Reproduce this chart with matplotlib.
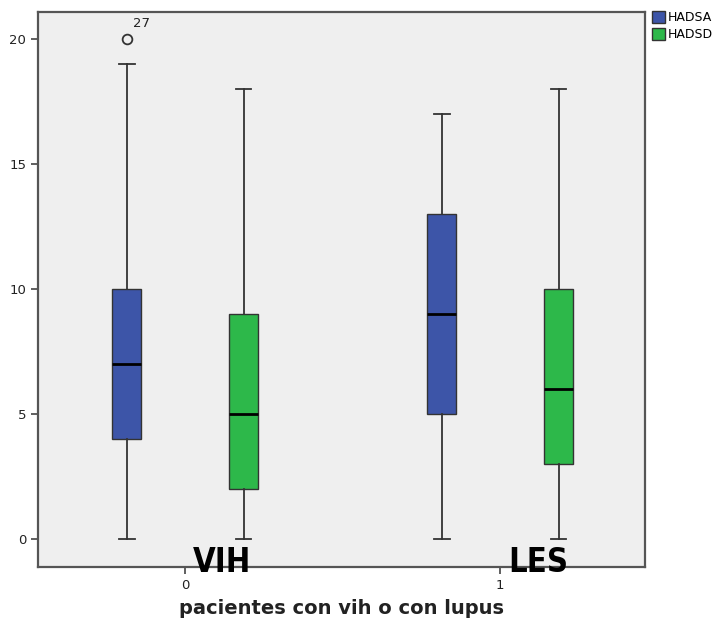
import matplotlib
matplotlib.use('Agg')
import matplotlib.pyplot as plt
from matplotlib.patches import Patch

# data (whiskers, quartiles, median)
groups = ['0', '1']
group_names = ['VIH', 'LES']
series = ['HADSA', 'HADSD']
colors = ['#3D55A8', '#2DB84A']

whislo = [[0, 0], [0, 0]]
q1 = [[4, 2], [5, 3]]
med = [[7, 5], [9, 6]]
q3 = [[10, 9], [13, 10]]
whishi = [[19, 18], [17, 18]]
fliers = [[[20], []], [[], []]]
flier_labels = [[['27'], []], [[], []]]

offsets = [-0.185, 0.185]
box_width = 0.092

fig = plt.figure(figsize=(7.2, 6.24), dpi=100)
ax = fig.add_axes([0.053, 0.091, 0.843, 0.890])
ax.set_facecolor('#EFEFEF')

for gi in range(len(groups)):
    for si in range(len(series)):
        stats = [{
            'whislo': whislo[gi][si], 'q1': q1[gi][si], 'med': med[gi][si],
            'q3': q3[gi][si], 'whishi': whishi[gi][si], 'fliers': fliers[gi][si],
        }]
        pos = gi + offsets[si]
        ax.bxp(stats, positions=[pos], widths=box_width, patch_artist=True,
               showcaps=True, capwidths=0.05,
               boxprops=dict(facecolor=colors[si], edgecolor='#333333', linewidth=1.0),
               medianprops=dict(color='black', linewidth=2),
               whiskerprops=dict(color='#333333', linewidth=1.3),
               capprops=dict(color='#333333', linewidth=1.3),
               flierprops=dict(marker='o', markerfacecolor='none',
                               markeredgecolor='#333333', markersize=7,
                               markeredgewidth=1.3),
               manage_ticks=False)
        for val, lab in zip(fliers[gi][si], flier_labels[gi][si]):
            ax.text(pos + 0.02, val + 0.35, lab, fontsize=9.5, color='#222222',
                    ha='left', va='bottom')

ax.set_xlim(-0.467, 1.46)
ax.set_ylim(-1.12, 21.08)
ax.set_yticks([0, 5, 10, 15, 20])
ax.set_xticks([0, 1])
ax.set_xticklabels(groups)
ax.tick_params(axis='both', direction='out', length=5, width=1.2,
               color='#444444', labelsize=9.5, labelcolor='#222222')
for sp in ax.spines.values():
    sp.set_color('#555555')
    sp.set_linewidth(1.6)

# big group names, drawn over the bottom spine like in the original
for gi, name in enumerate(group_names):
    ax.text(gi + 0.025, -0.94, name, fontsize=23.5, fontweight='bold',
            family='DejaVu Sans', fontstretch='condensed',
            ha='left', va='center', color='black', zorder=10, clip_on=False)

ax.set_xlabel('pacientes con vih o con lupus', fontsize=14, fontweight='bold',
              color='#222222', labelpad=5)

handles = [Patch(facecolor=c, edgecolor='#333333', label=s) for c, s in zip(colors, series)]
fig.legend(handles=handles, loc='upper left', bbox_to_anchor=(0.898, 0.99),
           frameon=False, fontsize=9, handlelength=1.1, handleheight=1.1,
           handletextpad=0.2, labelspacing=0.3, borderaxespad=0)

fig.savefig('out.png', dpi=100)
